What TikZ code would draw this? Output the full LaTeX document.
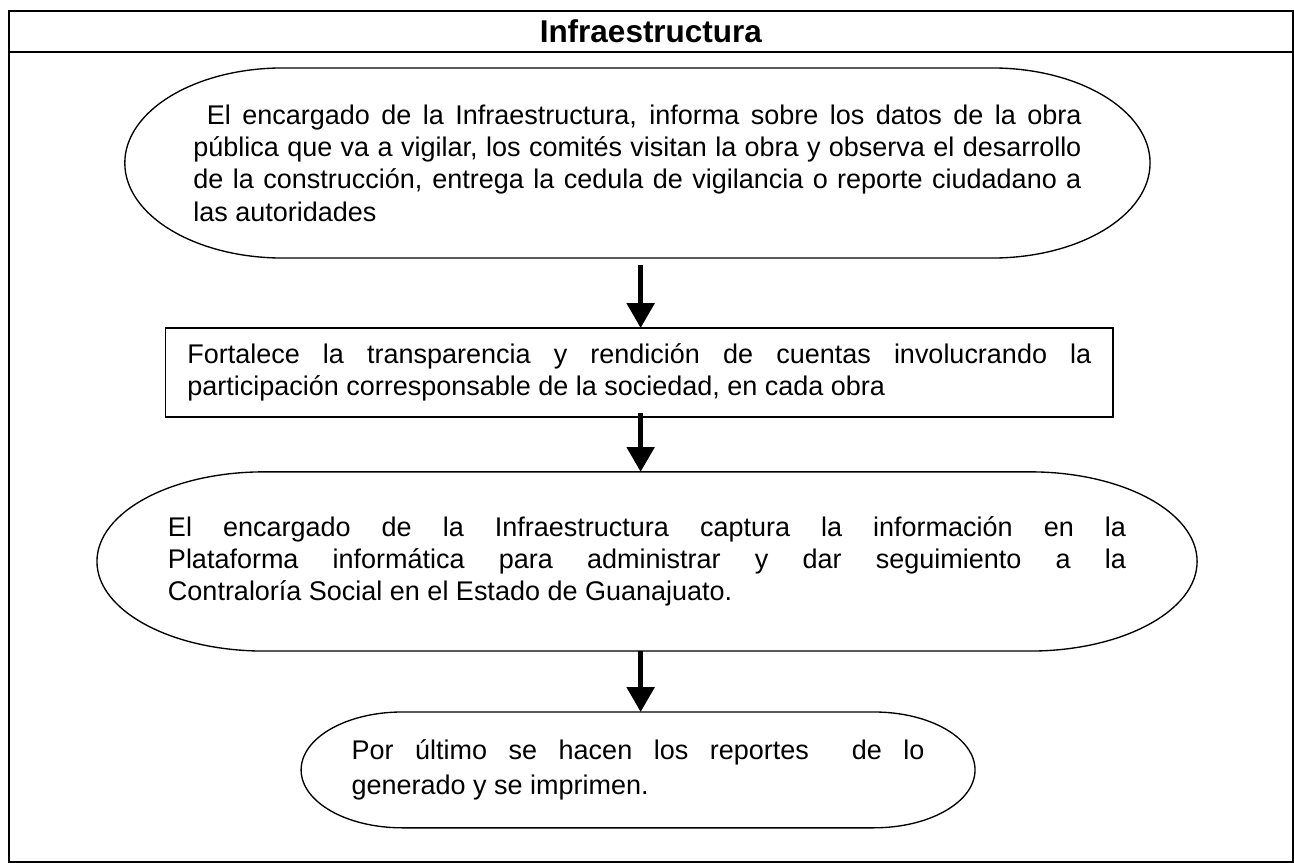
\documentclass[tikz,border=0pt]{standalone}
\usepackage{fontspec}
\setmainfont{Liberation Sans}
\usetikzlibrary{arrows.meta, calc}

% contorno de terminal: nodo, radio horizontal del extremo
\newcommand{\capsula}[2]{%
	\draw[contorno] let \p1=(#1.north west), \p2=(#1.south east), \n1={(\y1-\y2)/2} in
		(\x1+#2,\y1) -- (\x2-#2,\y1) arc[start angle=90, end angle=-90, x radius=#2, y radius=\n1]
		-- (\x1+#2,\y2) arc[start angle=270, end angle=90, x radius=#2, y radius=\n1] -- cycle;}

\begin{document}
\begin{tikzpicture}[marco/.style={line width=0.9pt}, contorno/.style={line width=0.6pt},
		paso/.style={inner sep=0pt, outer sep=0pt, align=justify, font=\fontsize{12}{14.4}\selectfont},
		flecha/.style={line width=2.2pt, -{Triangle[width=12pt, length=11pt]}}]
			\useasboundingbox (0,0) rectangle (20.219,-13.484);
			% Marco
			\node[inner sep=0pt, minimum width=20.06cm, minimum height=0.64cm, font=\fontsize{14}{16}\selectfont\bfseries] (titulo) at (10.17,-0.49) {Infraestructura};
			\draw[marco] (0.14,-0.17) rectangle (20.20,-13.465);
			\draw[marco] (titulo.south west) -- (titulo.south east);
			\coordinate (eje) at (10.01,0);
			% Pasos
			\node[paso, text width=13.875cm, minimum width=16.02cm, minimum height=2.97cm] (paso1) at (9.96,-2.547) {\hspace*{6pt}El encargado de la Infraestructura, informa sobre los datos de la obra\linebreak pública que va a vigilar, los comités visitan la obra y observa el desarrollo\linebreak de la construcción, entrega la cedula de vigilancia o reporte ciudadano a\linebreak las autoridades};
			\capsula{paso1}{2.47cm}
			\node[paso, draw, line width=0.6pt, text width=14.125cm, minimum width=14.80cm, minimum height=1.39cm] (paso2) at (9.99,-5.82) {Fortalece la transparencia y rendición de cuentas involucrando la\linebreak participación corresponsable de la sociedad, en cada obra};
			\node[paso, text width=14.97cm, minimum width=17.19cm, minimum height=2.80cm] (paso3) at (10.11,-8.773) {El encargado de la Infraestructura captura la información en la\linebreak Plataforma informática para administrar y dar seguimiento a la\linebreak Contraloría Social en el Estado de Guanajuato.};
			\capsula{paso3}{2.61cm}
			\node[paso, text width=8.95cm, minimum width=10.53cm, minimum height=1.81cm, font=\fontsize{12}{15.5}\selectfont] (paso4) at (9.97,-12.03) {Por último se hacen los reportes\ \ de lo\linebreak generado y se imprimen.};
			\capsula{paso4}{1.58cm}
			% Flechas
			\draw[flecha, shorten <=0.11cm] (paso1.south -| eje) -- (paso2.north -| eje);
			\draw[flecha, shorten <=-0.06cm] (paso2.south -| eje) -- (paso3.north -| eje);
			\draw[flecha] (paso3.south -| eje) -- (paso4.north -| eje);
		\end{tikzpicture}
\end{document}
